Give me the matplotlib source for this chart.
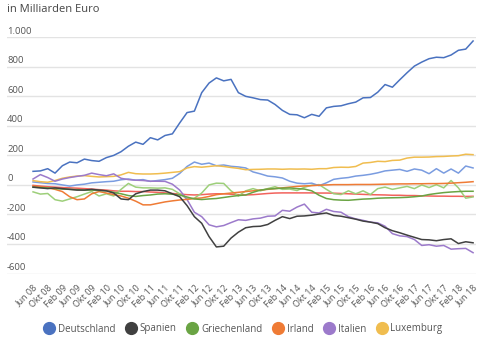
import numpy as np
import matplotlib
matplotlib.use("Agg")
import matplotlib.pyplot as plt
import matplotlib.transforms as mtransforms
from matplotlib.lines import Line2D

plt.rcParams["font.family"] = ["Open Sans", "DejaVu Sans"]

# data (billion euro, every 2nd month from Jun 08 to Jun 18)
months = np.arange(0, 121, 2)

deutschland = [92, 95, 110, 80, 130, 155, 150, 175, 165, 160, 185, 200, 225, 262, 290, 275,
               320, 305, 335, 346, 420, 490, 500, 625, 690, 725, 705, 715, 625, 600, 590,
               578, 575, 545, 505, 478, 475, 455, 478, 465, 522, 532, 536, 550, 561, 590,
               592, 628, 680, 662, 712, 760, 805, 832, 855, 865, 862, 880, 912, 920, 975]
spanien = [-15, -20, -25, -20, -25, -30, -35, -35, -30, -35, -40, -55, -95, -100, -60, -45,
           -35, -35, -40, -60, -80, -140, -215, -260, -350, -420, -415, -360, -320, -290,
           -282, -280, -268, -240, -215, -228, -212, -210, -205, -197, -190, -207, -212,
           -222, -232, -245, -252, -262, -290, -310, -324, -340, -355, -370, -372, -378,
           -370, -365, -397, -385, -392]
griechenland = [-16, -18, -20, -25, -28, -30, -32, -35, -35, -38, -40, -50, -60, -72, -78,
                -72, -68, -62, -60, -63, -68, -82, -95, -99, -95, -92, -85, -78, -72, -68,
                -50, -35, -28, -25, -22, -20, -25, -28, -40, -70, -92, -100, -103, -104,
                -100, -96, -94, -90, -88, -87, -86, -84, -80, -75, -65, -58, -52, -48, -45,
                -43, -43]
irland = [-8, -12, -20, -30, -45, -80, -100, -95, -60, -45, -55, -65, -75, -90, -110, -135,
          -135, -125, -115, -108, -102, -98, -92, -88, -78, -66, -60, -55, -50, -45, -40,
          -35, -30, -25, -20, -15, -10, -7, -5, -2, 0, 2, 2, 2, 3, 3, 3, 4, 5, 6, 7, 7, 8,
          8, 9, 9, 10, 12, 15, 18, 22]
italien = [40, 70, 50, 25, 40, 50, 58, 65, 80, 70, 62, 75, 45, 36, 32, 30, 25, 25, 24, 5,
           -35, -99, -185, -215, -270, -284, -275, -255, -236, -240, -230, -225, -212, -210,
           -172, -178, -150, -130, -185, -190, -165, -180, -185, -215, -230, -240, -252,
           -257, -280, -330, -345, -350, -370, -410, -405, -415, -410, -435, -432, -430, -459]
luxemburg = [29, 22, 18, 30, 45, 54, 60, 63, 58, 54, 56, 58, 68, 85, 76, 74, 74, 76, 80, 85,
             90, 115, 124, 120, 125, 130, 125, 118, 112, 103, 105, 106, 108, 108, 106, 108,
             107, 108, 106, 110, 110, 118, 120, 119, 125, 148, 152, 160, 158, 166, 168, 182,
             188, 188, 189, 192, 193, 196, 198, 208, 205]
# lighter series without legend entry
hellblau = [20, 15, 10, 8, 0, -8, 0, 5, 14, 18, 22, 25, 35, 40, 32, 36, 24, 30, 36, 45, 78,
            125, 155, 140, 148, 130, 135, 126, 122, 115, 88, 75, 60, 55, 47, 25, 12, 8, 12,
            -5, 14, 38, 45, 50, 60, 65, 72, 82, 95, 100, 105, 92, 108, 100, 76, 110, 80, 108,
            80, 128, 115]
hellgruen = [-47, -62, -58, -100, -110, -95, -80, -62, -45, -75, -60, -75, -30, 10, -15, -20,
             -20, -22, -20, -30, -60, -95, -90, -55, 0, 12, 10, -40, -75, -40, -25, -40, -25,
             -12, -30, -28, -38, -16, -2, 2, -30, -60, -65, -40, -60, -40, -65, -25, -15, -30,
             -20, -10, -25, 0, -18, 2, -20, 30, -20, -90, -81]
hellrot = [-3, -8, -12, -15, -18, -20, -22, -25, -28, -32, -35, -40, -43, -43, -45, -45, -48,
           -50, -54, -58, -62, -66, -68, -66, -62, -60, -60, -63, -66, -68, -66, -62, -58, -55,
           -54, -54, -54, -54, -54, -55, -55, -56, -58, -60, -62, -64, -66, -67, -68, -70, -70,
           -72, -72, -74, -75, -76, -76, -77, -77, -78, -77]

tick_pos = np.arange(0, 121, 4)
tick_labels = ["Jun 08", "Okt 08", "Feb 09", "Jun 09", "Okt 09", "Feb 10", "Jun 10", "Okt 10",
               "Feb 11", "Jun 11", "Okt 11", "Feb 12", "Jun 12", "Okt 12", "Feb 13", "Jun 13",
               "Okt 13", "Feb 14", "Jun 14", "Okt 14", "Feb 15", "Jun 15", "Okt 15", "Feb 16",
               "Jun 16", "Okt 16", "Feb 17", "Jun 17", "Okt 17", "Feb 18", "Jun 18"]
y_ticks = [1000, 800, 600, 400, 200, 0, -200, -400, -600]
y_labels = ["1.000", "800", "600", "400", "200", "0", "-200", "-400", "-600"]

names = ["Deutschland", "Spanien", "Griechenland", "Irland", "Italien", "Luxemburg"]
colors = ["#4a72c0", "#404040", "#6aa444", "#ef7b35", "#9c7acb", "#f0bd4f"]

fig = plt.figure(figsize=(4.86, 3.42), dpi=100)
ax = fig.add_axes([7 / 486, 1 - 273.5 / 342, 469 / 486, (273.5 - 37.3) / 342])

for v in y_ticks:
    ax.axhline(v, color="#e3e3e3", lw=1.0, zorder=0)

ax.plot(months, hellrot, color="#f2625c", lw=1.1)
ax.plot(months, hellgruen, color="#9dcf7a", lw=1.1)
ax.plot(months, hellblau, color="#7a9ce0", lw=1.1)
series = [deutschland, spanien, griechenland, irland, italien, luxemburg]
for vals, col in zip(series[::-1], colors[::-1]):
    ax.plot(months, vals, color=col, lw=1.1)

ax.set_xlim(-7.1, 120.8)
ax.set_ylim(-600, 1000)
ax.set_yticks([])
ax.set_xticks(tick_pos)
ax.set_xticklabels(tick_labels, rotation=45, ha="right", rotation_mode="anchor",
                   fontsize=6.5, color="#555555")
ax.tick_params(axis="x", length=0, pad=7)
for s in ax.spines.values():
    s.set_visible(False)

trans = mtransforms.blended_transform_factory(ax.transAxes, ax.transData)
for v, lab in zip(y_ticks, y_labels):
    ax.text(0.0, v + 12, lab, transform=trans, ha="left", va="bottom",
            fontsize=6.8, color="#555555")

fig.text(7 / 486, 1 - 10 / 342, "in Milliarden Euro", ha="left", va="center",
         fontsize=8, color="#444444")

handles = [Line2D([], [], ls="none", marker="o", markersize=8.5, color=c) for c in colors]
fig.legend(handles, names, loc="center", bbox_to_anchor=(0.5, 1 - 329 / 342), ncol=6,
           frameon=False, fontsize=7, handletextpad=0.3, columnspacing=1.0,
           labelcolor="#555555", handlelength=1.2)

fig.savefig("out.png", dpi=100)
